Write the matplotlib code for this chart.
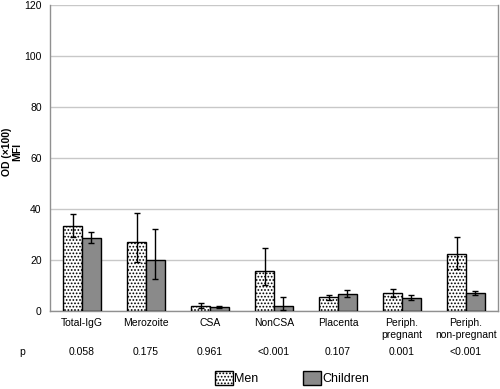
import matplotlib
matplotlib.use("Agg")
import matplotlib.pyplot as plt
import numpy as np
from matplotlib.patches import Patch

plt.rcParams['font.family'] = ['Liberation Sans', 'DejaVu Sans']
plt.rcParams['hatch.color'] = '#505050'
plt.rcParams['hatch.linewidth'] = 0.8

categories = ["Total-IgG", "Merozoite", "CSA", "NonCSA", "Placenta", "Periph.\npregnant", "Periph.\nnon-pregnant"]
p_values = ["0.058", "0.175", "0.961", "<0.001", "0.107", "0.001", "<0.001"]
men = [33.5, 27.0, 2.0, 15.8, 5.4, 6.9, 22.2]
men_err_hi = [38.0, 38.3, 3.2, 24.6, 6.3, 8.5, 29.1]
men_err_lo = [29.2, 19.2, 1.0, 10.2, 4.3, 5.4, 16.3]
children = [28.8, 20.0, 1.5, 2.0, 6.6, 5.2, 6.9]
ch_err_hi = [31.0, 32.0, 1.8, 5.6, 8.2, 6.2, 8.0]
ch_err_lo = [26.6, 12.5, 1.2, 0.3, 5.6, 4.4, 6.2]
yticks = [0, 20, 40, 60, 80, 100, 120]

fig = plt.figure(figsize=(5.0, 3.89), dpi=100)
ax = fig.add_axes([50/500, 1-311/389, 448/500, 306/389])

x = np.arange(len(categories))
w = 0.29
men_arr = np.array(men)
ch_arr = np.array(children)
men_yerr = [men_arr - np.array(men_err_lo), np.array(men_err_hi) - men_arr]
ch_yerr = [ch_arr - np.array(ch_err_lo), np.array(ch_err_hi) - ch_arr]

ax.bar(x - w/2, men, w, facecolor='white', edgecolor='black', hatch='.....', linewidth=1.0, zorder=3)
ax.bar(x + w/2, children, w, facecolor='#8a8a8a', edgecolor='black', linewidth=1.0, zorder=3)
ax.errorbar(x - w/2, men, yerr=men_yerr, fmt='none', ecolor='black', elinewidth=1.0, capsize=2.5, capthick=1.0, zorder=4)
ax.errorbar(x + w/2, children, yerr=ch_yerr, fmt='none', ecolor='black', elinewidth=1.0, capsize=2.5, capthick=1.0, zorder=4)

ax.set_xlim(-0.5, len(categories) - 0.5)
ax.set_ylim(0, 120)
ax.set_yticks(yticks)
ax.set_yticklabels([str(v) for v in yticks], fontsize=7.5)
ax.yaxis.grid(True, color='#c8c8c8', linewidth=1.0, zorder=0)
ax.set_axisbelow(True)
ax.tick_params(axis='y', length=0, pad=6)
ax.tick_params(axis='x', length=0, pad=5)
ax.set_xticks(x)
ax.set_xticklabels(categories, fontsize=7.5, linespacing=1.3, va='top')
for s in ['left', 'right', 'top', 'bottom']:
    ax.spines[s].set_color('#909090')
    ax.spines[s].set_linewidth(1.0)
ax.spines['top'].set_visible(False)

fig.text(12/500, 1-152/389, "OD (\u00d7100)\nMFI", fontsize=7.5, fontweight='bold', linespacing=1.0,
         rotation=90, ha='center', va='center', multialignment='center')

# p-value row
yp = 1 - 352/389
fig.text(22/500, yp, "p", fontsize=7.5, ha='center', va='center')
for i, pv in enumerate(p_values):
    xf = (50 + (i + 0.5) * 64) / 500
    fig.text(xf, yp, pv, fontsize=7.5, ha='center', va='center')

handles = [Patch(facecolor='white', edgecolor='black', hatch='.....', linewidth=1.0, label='Men'),
           Patch(facecolor='#8a8a8a', edgecolor='black', linewidth=1.0, label='Children')]
fig.legend(handles=handles, loc='center', bbox_to_anchor=(292/500, 1-378/389), ncol=2, frameon=False,
           fontsize=9, handlelength=1.4, handleheight=1.3, handletextpad=0.1, columnspacing=3.6, borderpad=0)

fig.savefig("out.png", dpi=100)
